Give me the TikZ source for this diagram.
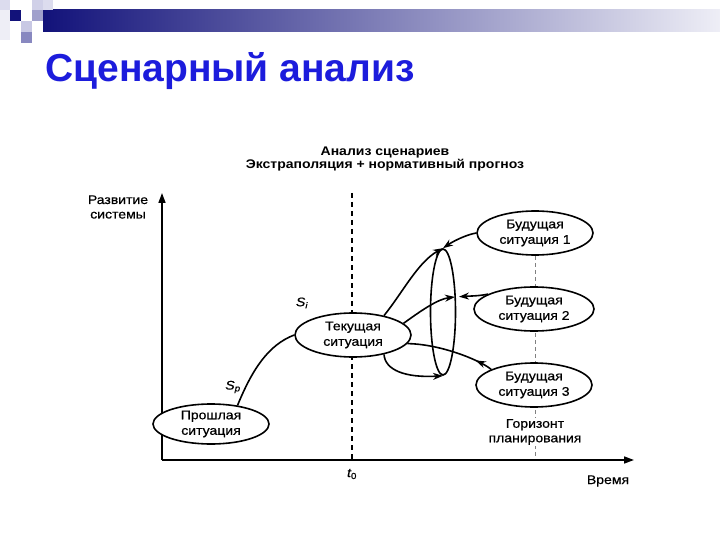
\documentclass[tikz,border=0pt]{standalone}
\usepackage{fontspec}
\setmainfont{Liberation Sans}
\newfontfamily\widefont[FakeStretch=1.12,FakeBold=0.6]{Liberation Sans}
\newfontfamily\headfont[FakeStretch=1.12]{Liberation Sans}
\usetikzlibrary{shapes.geometric,arrows.meta,decorations.markings,backgrounds}
\definecolor{titleblue}{RGB}{28,28,220}
\definecolor{navy}{RGB}{18,18,122}
\definecolor{barend}{RGB}{238,238,246}
\definecolor{sqA}{RGB}{220,220,238}
\definecolor{sqB}{RGB}{238,238,246}
\definecolor{sqC}{RGB}{208,208,232}
\definecolor{sqD}{RGB}{160,160,204}
\definecolor{sqE}{RGB}{200,200,228}
\definecolor{sqF}{RGB}{136,136,192}
\begin{document}
\begin{tikzpicture}[x=1pt,y=-1pt,
  sit/.style={ellipse, draw, line width=1.6pt, fill=white, minimum width=116pt,
    minimum height=44pt, inner sep=0pt, align=center, font=\widefont\fontsize{12.5}{15.5}\selectfont},
  conn/.style={line width=1.6pt, -{Stealth[length=10pt,width=7pt]}},
  plain/.style={line width=1.6pt},
  axis/.style={line width=1.6pt, -{Triangle[length=10pt,width=7pt]}},
  lbl/.style={align=center, font=\widefont\fontsize{12.5}{14.5}\selectfont, inner sep=1pt},
  midarrow/.style={postaction={decorate}, decoration={markings,
    mark=at position #1 with {\arrow{Stealth[length=10pt,width=7pt]}}}}
]
\useasboundingbox (0,0) rectangle (720,540);
\begin{scope}[on background layer]
  \fill[white] (0,0) rectangle (720,540);
\end{scope}
% header decoration
\shade[left color=navy, right color=barend] (43,10) rectangle (720,32);
\fill[sqA] (0,0) rectangle (10,10);
\fill[sqB] (0,10) rectangle (10,40);
\fill[navy] (10,10) rectangle (21,21);
\fill[sqC] (32,0) rectangle (43,10);
\fill[sqD] (32,10) rectangle (43,21);
\fill[sqA] (43,0) rectangle (53,10);
\fill[sqE] (21,21) rectangle (32,32);
\fill[sqF] (21,32) rectangle (32,43);
% title
\node[anchor=base west, inner sep=0pt, text=titleblue,
  font=\fontsize{39}{42}\selectfont\bfseries] (title) at (45,82) {Сценарный анализ};
% heading
\node[align=center, font=\headfont\fontsize{12.5}{13.5}\selectfont\bfseries] (head) at (385,159)
  {Анализ сценариев\\Экстраполяция + нормативный прогноз};
% axes
\coordinate (o) at (162,460);
\coordinate (ytop) at (162,193);
\coordinate (xend) at (634,460);
\draw[axis] (o) -- (ytop);
\draw[axis] (o) -- (xend);
\node[lbl] (ylab) at (118,207) {Развитие\\системы};
\node[lbl] (xlab) at (608,481) {Время};
\node[lbl] (t0) at (352,474) {\itshape t\textsubscript{\upshape 0}};
% situations
\node[sit, minimum height=40pt] (past) at (211,424) {Прошлая\\ситуация};
\node[sit] (current) at (353,335) {Текущая\\ситуация};
\node[sit] (fut1) at (535,233) {Будущая\\ситуация 1};
\node[sit, minimum width=120pt] (fut2) at (534,309) {Будущая\\ситуация 2};
\node[sit] (fut3) at (534,385) {Будущая\\ситуация 3};
\node[lbl, fill=white] (hor) at (535,432) {Горизонт\\планирования};
\node[ellipse, draw, line width=1.6pt, minimum width=25pt, minimum height=126pt,
  inner sep=0pt] (cone) at (443,312) {};
\node[lbl] (sp) at (233,387) {\itshape S\textsubscript{p}};
\node[lbl] (si) at (302,303) {\itshape S\textsubscript{i}};
% background lines
\begin{scope}[on background layer]
  \coordinate (t0top) at (352,193);
  \coordinate (t0bot) at (352,460);
  \coordinate (hzbot) at (535,460);
  \draw[line width=1.3pt, dash pattern=on 5pt off 4pt] (t0top) -- (t0bot);
  \draw[gray, line width=0.7pt, dash pattern=on 4pt off 3pt] (fut1.south) -- (hzbot);
\end{scope}
% connectors
\coordinate (m2) at (455,297);
\draw[plain] (past.35) .. controls (252,370) and (268,345) .. (current.west);
\draw[conn] (current.32) .. controls (403,292) and (418,262) .. (cone.north);
\draw[conn] (fut1.west) .. controls (465,235) and (452,242) .. (cone.north);
\draw[conn] (current.13) .. controls (422,310) and (438,299) .. (m2);
\draw[conn, shorten >=4pt] (fut2.162) .. controls (480,296) and (470,296) .. (m2);
\draw[plain, midarrow=0.2] (fut3.160) .. controls (480,360) and (440,344) .. (current.-9);
\draw[conn] (current.-32) .. controls (385,370) and (405,378) .. (cone.south);
\end{tikzpicture}
\end{document}
